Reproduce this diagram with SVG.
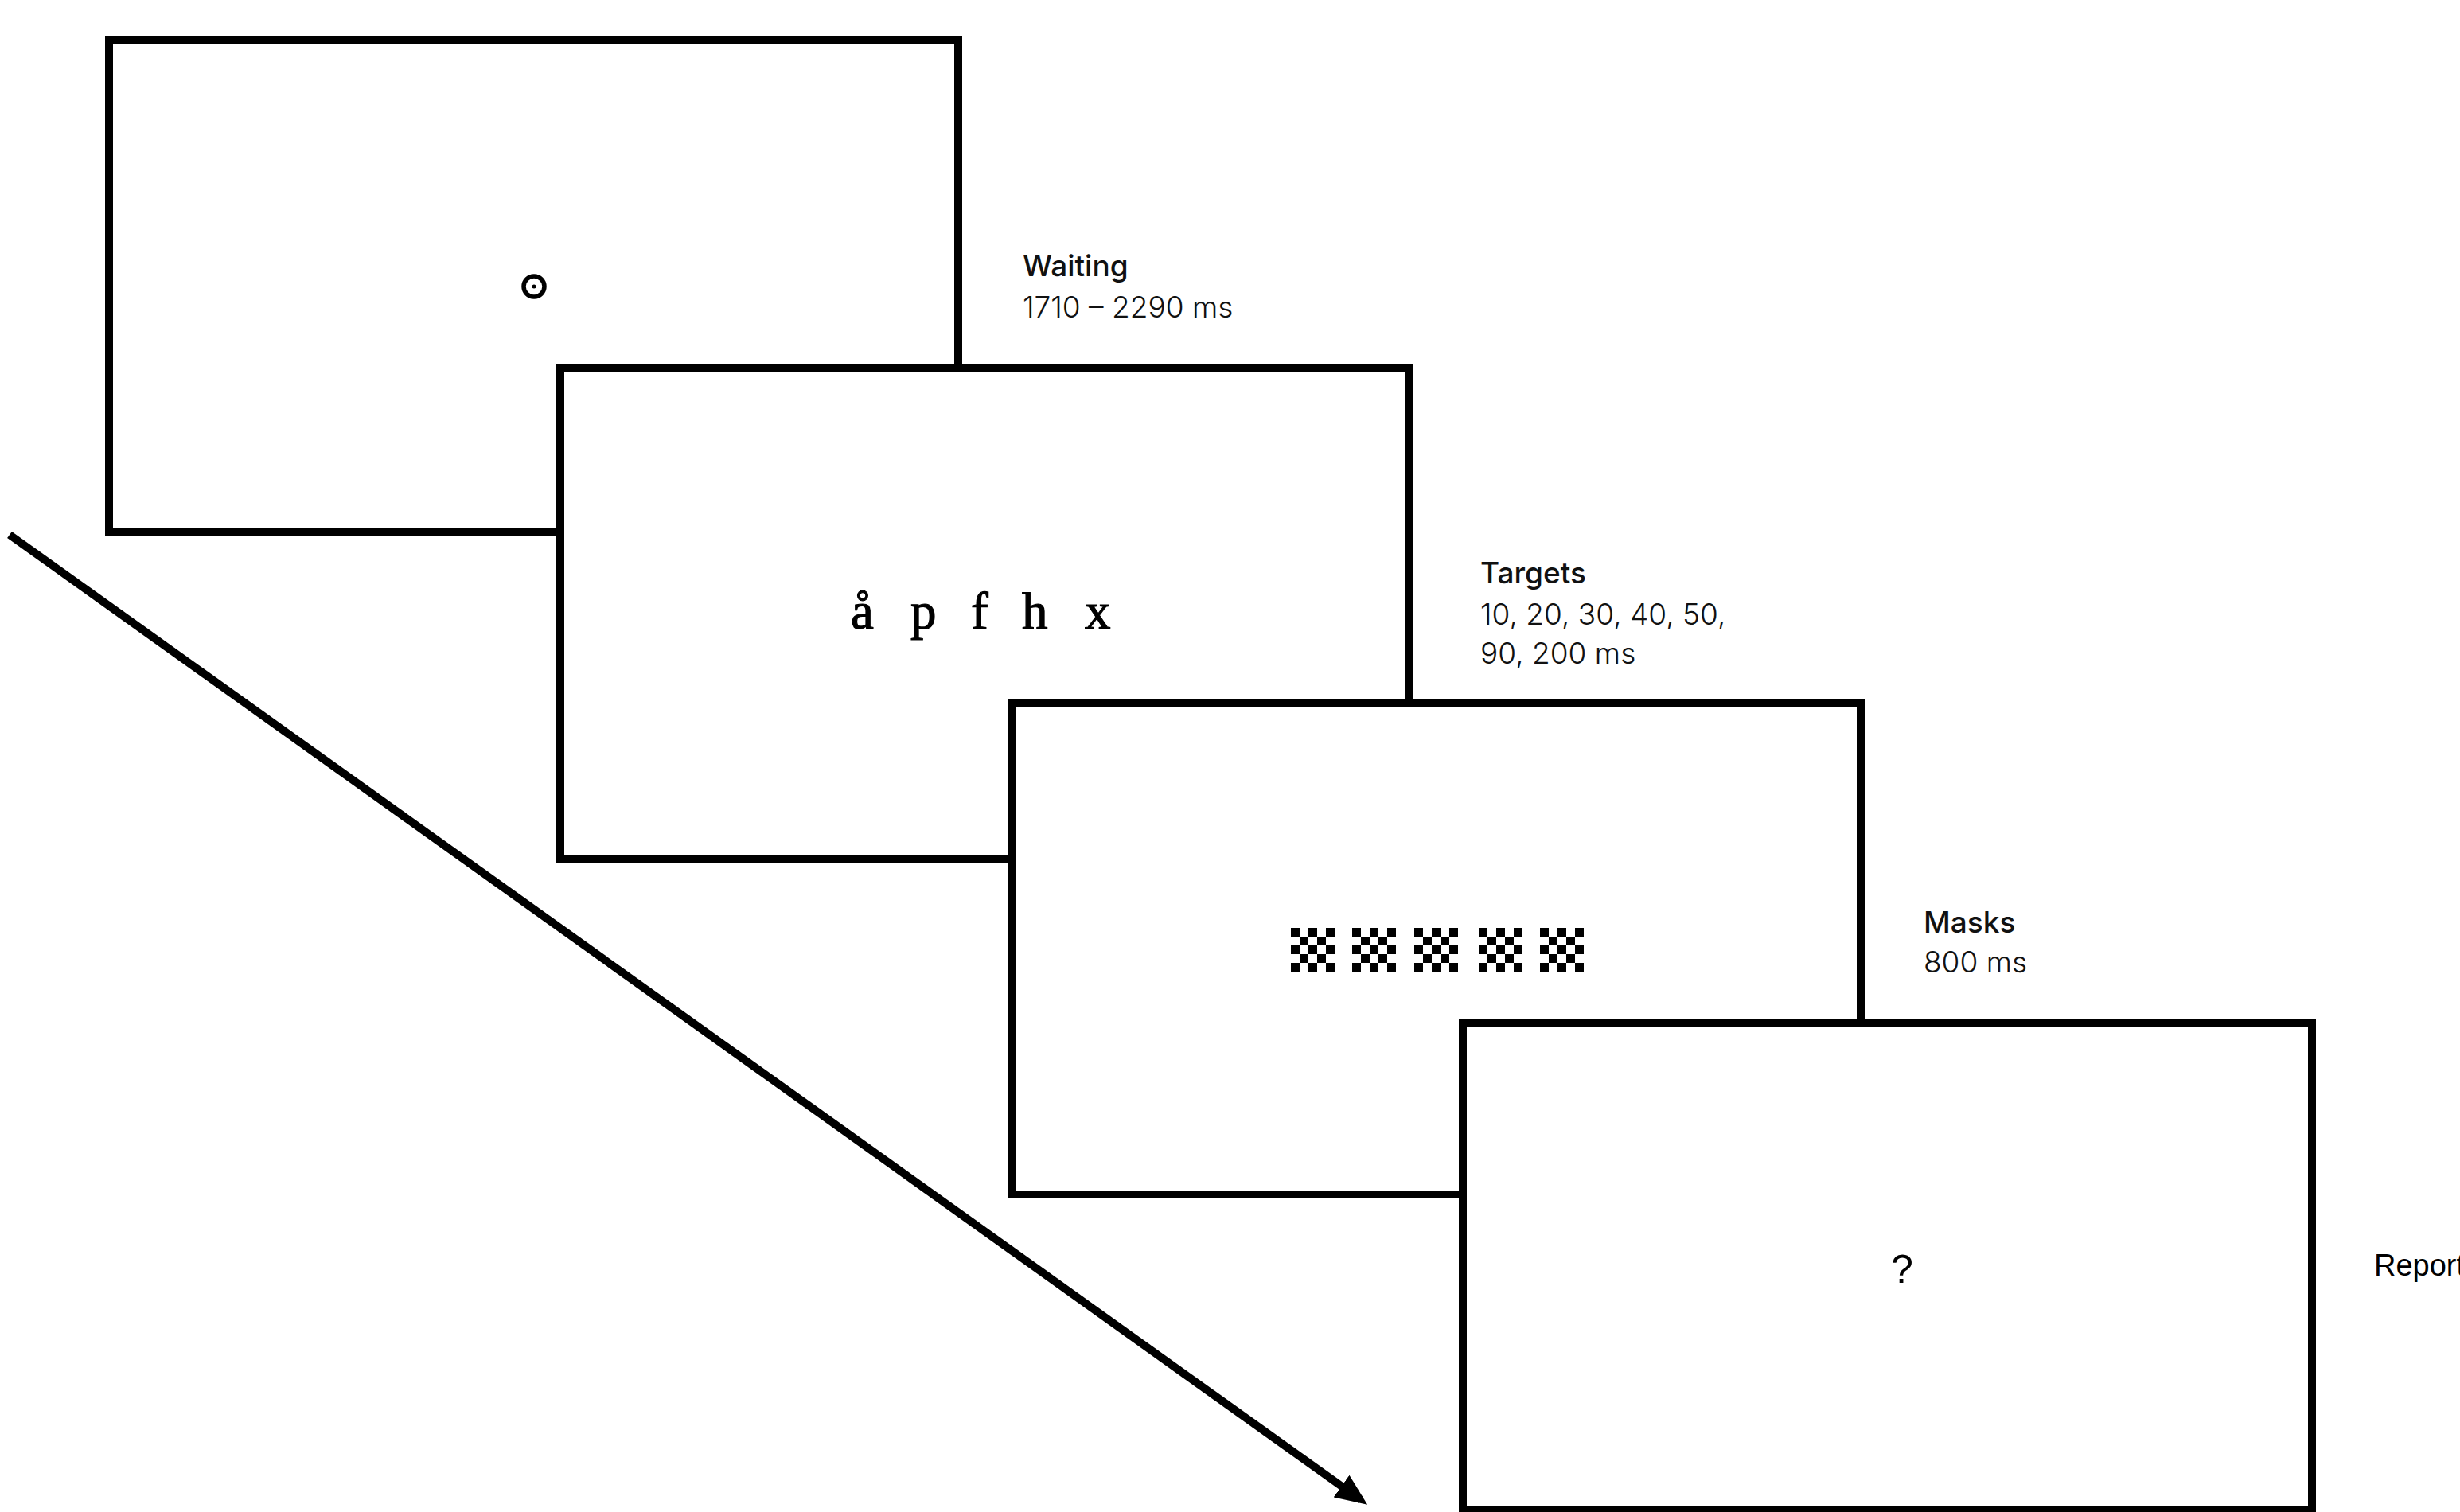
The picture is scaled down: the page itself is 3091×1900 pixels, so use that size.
<svg xmlns="http://www.w3.org/2000/svg" width="3091" height="1900" viewBox="0 0 3091 1900">
  <style>
    .screen { fill: #ffffff; stroke: #000000; stroke-width: 10; }
    .title { font-family: Inter, "Liberation Sans", sans-serif; font-size: 37px; font-weight: 500; fill: #111; }
    .sub { font-family: Inter, "Liberation Sans", sans-serif; font-size: 37px; font-weight: 300; fill: #111; }
    .letter { font-family: "Liberation Serif", serif; font-size: 65px; fill: #000; stroke: #000; stroke-width: 1.2; }
    .report { font-family: "Liberation Sans", Arial, sans-serif; font-size: 38px; fill: #000; }
    .q { font-family: "Liberation Sans", Arial, sans-serif; font-size: 50px; fill: #000; }
  </style>
  <defs>
    <marker id="arrowhead" markerWidth="4" markerHeight="3.4" refX="3" refY="1.7" orient="auto" markerUnits="strokeWidth">
      <path d="M0,0 L4,1.7 L0,3.4 Z" fill="#000"/>
    </marker>
    <g id="mask">
      <rect x="0" y="0" width="11" height="11"/>
      <rect x="22" y="0" width="11" height="11"/>
      <rect x="44" y="0" width="11" height="11"/>
      <rect x="11" y="11" width="11" height="11"/>
      <rect x="33" y="11" width="11" height="11"/>
      <rect x="0" y="22" width="11" height="11"/>
      <rect x="22" y="22" width="11" height="11"/>
      <rect x="44" y="22" width="11" height="11"/>
      <rect x="11" y="33" width="11" height="11"/>
      <rect x="33" y="33" width="11" height="11"/>
      <rect x="0" y="44" width="11" height="11"/>
      <rect x="22" y="44" width="11" height="11"/>
      <rect x="44" y="44" width="11" height="11"/>
    </g>
  </defs>
  <rect width="3091" height="1900" fill="#ffffff"/>

  <g id="connectors">
    <line x1="12" y1="672" x2="1710" y2="1885" stroke="#000" stroke-width="10" marker-end="url(#arrowhead)"/>
  </g>

  <g id="screen-waiting">
    <rect class="screen" x="137" y="50" width="1067" height="618"/>
    <circle cx="671" cy="360" r="13" fill="none" stroke="#000" stroke-width="5.5"/>
    <circle cx="671" cy="360" r="2.5" fill="#000"/>
  </g>
  <g id="label-waiting">
    <text class="title" x="1285" y="347">Waiting</text>
    <text class="sub" x="1285" y="399">1710 – 2290 ms</text>
  </g>

  <g id="screen-targets">
    <rect class="screen" x="704" y="462" width="1067" height="618"/>
    <text class="letter" x="1069" y="790">å</text>
    <text class="letter" x="1144" y="790">p</text>
    <text class="letter" x="1220" y="790">f</text>
    <text class="letter" x="1284" y="790">h</text>
    <text class="letter" x="1363" y="790">x</text>
  </g>
  <g id="label-targets">
    <text class="title" x="1860" y="733">Targets</text>
    <text class="sub" x="1860" y="785">10, 20, 30, 40, 50,</text>
    <text class="sub" x="1860" y="834">90, 200 ms</text>
  </g>

  <g id="screen-masks">
    <rect class="screen" x="1271" y="883" width="1067" height="618"/>
    <use href="#mask" x="1622" y="1166"/>
    <use href="#mask" x="1699" y="1166"/>
    <use href="#mask" x="1777" y="1166"/>
    <use href="#mask" x="1858" y="1166"/>
    <use href="#mask" x="1935" y="1166"/>
  </g>
  <g id="label-masks">
    <text class="title" x="2417" y="1172">Masks</text>
    <text class="sub" x="2417" y="1222">800 ms</text>
  </g>

  <g id="screen-report">
    <rect class="screen" x="1838" y="1285" width="1067" height="613"/>
    <text class="q" x="2376" y="1612">?</text>
  </g>
  <g id="label-report">
    <text class="report" x="2983" y="1603">Report</text>
  </g>
</svg>
